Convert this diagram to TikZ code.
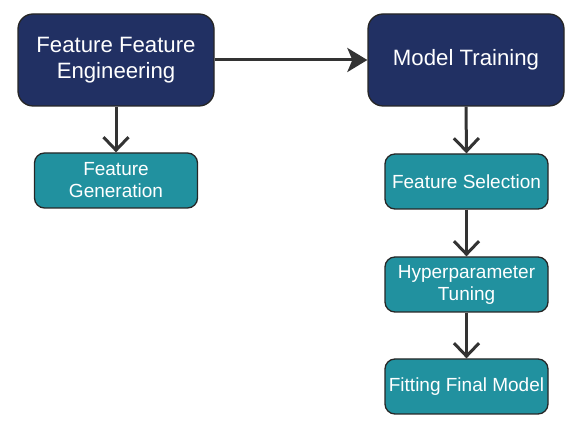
\documentclass[tikz,border=0pt]{standalone}
\usepackage{fontspec}
\setmainfont{Liberation Sans}
\usetikzlibrary{arrows.meta}
\definecolor{navy}{HTML}{213063}
\definecolor{teal2}{HTML}{21919F}
\definecolor{edge}{HTML}{262626}
\definecolor{arr}{HTML}{333333}
\tikzset{
  bigbox/.style={draw=edge, line width=1.3pt, fill=navy, rounded corners=15pt, minimum width=196pt, minimum height=92pt, inner sep=0pt, text=white, align=center, font=\fontsize{22.2}{26}\selectfont},
  smallbox/.style={draw=edge, line width=1.3pt, fill=teal2, rounded corners=10pt, minimum width=163pt, minimum height=55pt, inner sep=0pt, text=white, align=center, font=\fontsize{19}{22}\selectfont},
  downarr/.style={draw=arr, line width=3pt, -{Straight Barb[length=13pt,width=25pt]}},
  rightarr/.style={draw=arr, line width=3pt, -{Stealth[length=20pt,width=24pt,inset=5pt]}}
}
\begin{document}
\begin{tikzpicture}[x=1pt,y=-1pt]
\useasboundingbox (0,0) rectangle (579,430);
\node[bigbox] (fe) at (116,60) {Feature Feature\\Engineering};
\node[bigbox] (mt) at (466,60) {Model Training};
\node[smallbox] (fg) at (116,180.5) {Feature\\Generation};
\node[smallbox] (fs) at (466.5,181.5) {Feature Selection};
\node[smallbox] (ht) at (466.5,284.5) {Hyperparameter\\Tuning};
\node[smallbox] (fm) at (466.5,386.5) {Fitting Final Model};
\draw[rightarr] (fe.east) -- (mt.west);
\draw[downarr] (fe.south) -- (fg.north);
\draw[downarr] (mt.south) -- (fs.north);
\draw[downarr] (fs.south) -- (ht.north);
\draw[downarr] (ht.south) -- (fm.north);
\end{tikzpicture}
\end{document}
